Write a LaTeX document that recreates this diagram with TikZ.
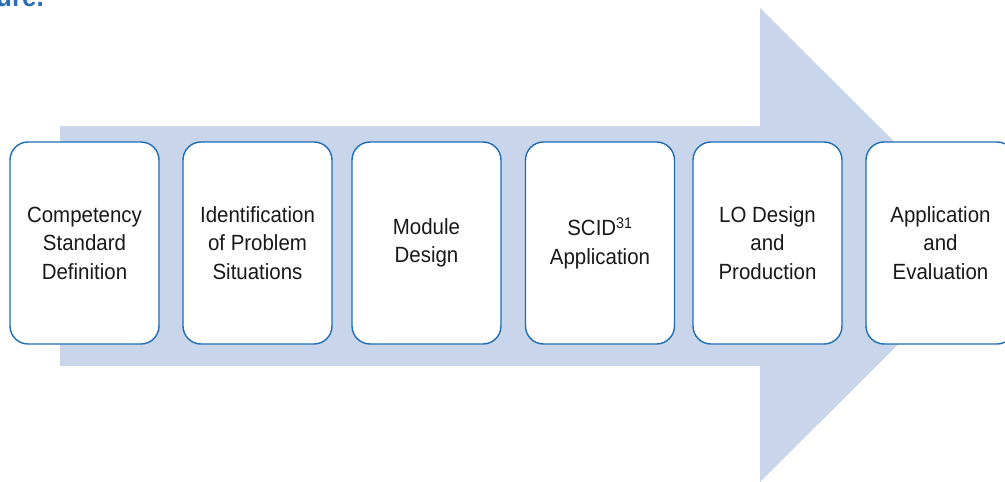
\documentclass[tikz,border=0pt]{standalone}
\usepackage{fontspec}
\setmainfont[FakeStretch=0.93]{Liberation Sans}
\definecolor{arrowfill}{HTML}{C8D5EB}
\definecolor{boxblue}{HTML}{1F6DB5}
\definecolor{titleblue}{HTML}{2C6DB4}
\tikzset{
  stage/.style={draw=boxblue, line width=1.4pt, fill=white, rounded corners=18pt,
    minimum width=149pt, minimum height=202pt, inner sep=0pt, align=center,
    text=black!90, font=\fontsize{22}{28.5}\selectfont},
}
\begin{document}
\begin{tikzpicture}[x=1pt,y=-1pt]
\useasboundingbox (0,0) rectangle (1005,482);
% heading line running off the top edge
\node[anchor=base west, inner sep=0pt, text=titleblue,
  font=\bfseries\fontsize{28}{28}\selectfont] (head) at (-4,6) {ure.};
% broad process arrow behind the stages
\fill[arrowfill] (60,126) -- (760,126) -- (760,8) -- (998,245) -- (760,482)
  -- (760,366) -- (60,366) -- cycle;
% process stages
\node[stage] (s1) at (84.5,243) {Competency\\Standard\\Definition};
\node[stage] (s2) at (257.5,243) {Identification\\of Problem\\Situations};
\node[stage] (s3) at (426.5,243) {Module\\Design};
\node[stage] (s4) at (600,243) {SCID\textsuperscript{31}\\Application};
\node[stage] (s5) at (767.5,243) {LO Design\\and\\Production};
\node[stage] (s6) at (940.5,243) {Application\\and\\Evaluation};
\end{tikzpicture}
\end{document}
